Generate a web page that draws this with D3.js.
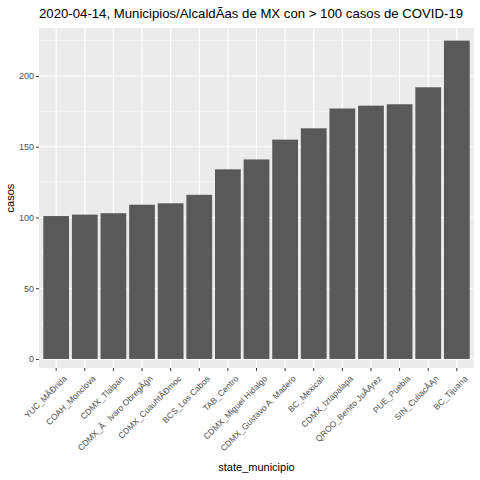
<!DOCTYPE html><html><head><script src="https://cdn.jsdelivr.net/npm/d3@7"></script>
<style>body{margin:0;background:#fff}text{font-family:"Liberation Sans",Arial,sans-serif}</style></head><body>
<svg id="c" width="480" height="480"></svg>
<script>
const categories=["YUC_Mérida","COAH_Monclova","CDMX_Tlalpan","CDMX_Álvaro Obregón","CDMX_Cuauhtémoc","BCS_Los Cabos","TAB_Centro","CDMX_Miguel Hidalgo","CDMX_Gustavo A. Madero","BC_Mexicali","CDMX_Iztapalapa","QROO_Benito Juárez","PUE_Puebla","SIN_Culiacán","BC_Tijuana"];
const casos=[101,102,103,109,110,116,134,141,155,163,177,179,180,192,225];
const yTicks=[0,50,100,150,200];
const svg=d3.select("#c");
const L=39,R=474,T=28,B=368;
const n=categories.length;
const unit=(R-L)/(n-1+1.2);
const x=d3.scaleBand().domain(categories).range([L+0.6*unit-unit/2,R-0.6*unit+unit/2]).paddingInner(0.1).paddingOuter(0.05);
const y=d3.scaleLinear().domain([-6.4,233.9]).range([B,T]);
svg.append("rect").attr("x",L).attr("y",T).attr("width",R-L).attr("height",B-T).attr("fill","#ebebeb");
const minor=[25,75,125,175,225];
svg.selectAll(".mn").data(minor).join("line").attr("x1",L).attr("x2",R).attr("y1",d=>y(d)).attr("y2",d=>y(d)).attr("stroke","#fff").attr("stroke-width",0.5);
svg.selectAll(".mj").data(yTicks).join("line").attr("x1",L).attr("x2",R).attr("y1",d=>y(d)).attr("y2",d=>y(d)).attr("stroke","#fff").attr("stroke-width",1.1);
svg.selectAll(".vx").data(categories).join("line").attr("x1",d=>x(d)+x.bandwidth()/2).attr("x2",d=>x(d)+x.bandwidth()/2).attr("y1",T).attr("y2",B).attr("stroke","#fff").attr("stroke-width",1.1);
svg.selectAll(".bar").data(categories).join("rect").attr("x",d=>x(d)).attr("width",x.bandwidth()).attr("y",(d,i)=>y(casos[i])).attr("height",(d,i)=>y(0)-y(casos[i])).attr("fill","#595959");
const ya=svg.append("g").attr("transform",`translate(${L},0)`).call(d3.axisLeft(y).tickValues(yTicks).tickSize(3).tickPadding(2));
ya.select(".domain").remove();
ya.selectAll("line").attr("stroke","#333");
ya.selectAll("text").attr("fill","#4d4d4d").style("font-size","9px");
const xa=svg.append("g").attr("transform",`translate(0,${B})`).call(d3.axisBottom(x).tickSize(3));
xa.select(".domain").remove();
xa.selectAll("line").attr("stroke","#333");
xa.selectAll("text").attr("fill","#4d4d4d").style("font-size","8.5px").attr("text-anchor","end").attr("transform","translate(4,4) rotate(-45)").attr("dy","0.5em");
svg.append("text").attr("x",(L+R)/2).attr("y",471).attr("text-anchor","middle").style("font-size","11px").text("state_municipio");
svg.append("text").attr("transform",`translate(14,${(T+B)/2}) rotate(-90)`).attr("text-anchor","middle").style("font-size","11px").text("casos");
svg.append("text").attr("x",L).attr("y",18).style("font-size","13.2px").text("2020-04-14, Municipios/Alcaldías de MX con > 100 casos de COVID-19");
</script></body></html>
